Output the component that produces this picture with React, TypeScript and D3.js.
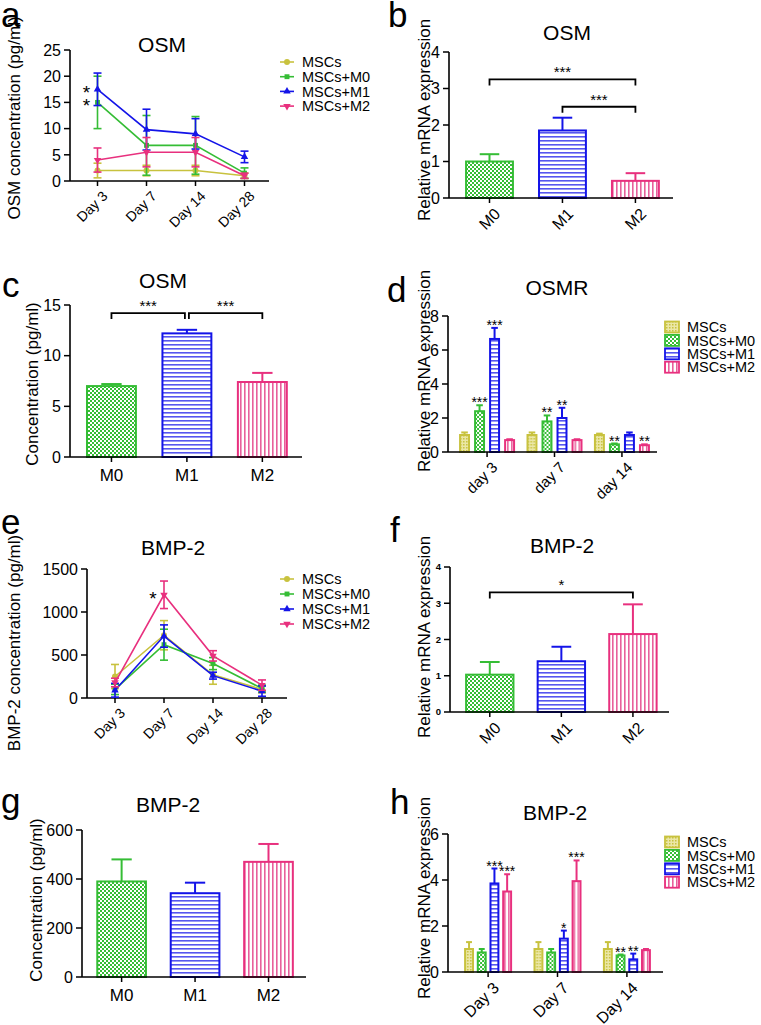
import * as d3 from 'd3';

const FONT = '"Liberation Sans", Arial, Helvetica, sans-serif';
const COLORS = ['#c8c23e', '#35bd35', '#1414e8', '#e8307e'];
const FILLS = ['url(#pMSC)', 'url(#pM0)', 'url(#pM1)', 'url(#pM2)'];

const seriesNames = ['MSCs', 'MSCs+M0', 'MSCs+M1', 'MSCs+M2'];
const macroCats = ['M0', 'M1', 'M2'];
const lineDays = ['Day 3', 'Day 7', 'Day 14', 'Day 28'];
const osmrDays = ['day 3', 'day 7', 'day 14'];
const bmpDays = ['Day 3', 'Day 7', 'Day 14'];

// a - OSM secretion (pg/ml), rows = MSCs, +M0, +M1, +M2
const osmTimeMean = [
  [2.0, 2.0, 2.0, 1.0],
  [15.0, 6.8, 6.8, 1.5],
  [17.5, 9.8, 9.0, 4.6],
  [4.0, 5.5, 5.5, 1.0],
];
const osmTimeSd = [
  [1.4, 1.0, 1.0, 0.5],
  [5.0, 5.7, 5.5, 1.0],
  [3.1, 3.9, 2.9, 1.1],
  [2.3, 2.8, 2.8, 0.5],
];
// b - OSM mRNA
const osmMrnaMean = [1.0, 1.85, 0.47];
const osmMrnaSd = [0.2, 0.35, 0.21];
// c - OSM concentration
const osmConcMean = [7.0, 12.2, 7.4];
const osmConcSd = [0.2, 0.35, 0.9];
// d - OSMR mRNA, rows = series, cols = days
const osmrMean = [
  [1.0, 1.0, 1.0],
  [2.4, 1.8, 0.45],
  [6.65, 2.0, 1.0],
  [0.7, 0.7, 0.4],
];
const osmrSd = [
  [0.15, 0.15, 0.08],
  [0.35, 0.35, 0.05],
  [0.65, 0.6, 0.15],
  [0.05, 0.05, 0.05],
];
const osmrStars = [
  ['', '', ''],
  ['***', '**', '**'],
  ['***', '**', ''],
  ['', '', '**'],
];
// e - BMP-2 secretion
const bmpTimeMean = [
  [250, 730, 270, 100],
  [100, 620, 400, 110],
  [90, 720, 260, 80],
  [180, 1200, 490, 150],
];
const bmpTimeSd = [
  [140, 170, 110, 40],
  [60, 180, 70, 40],
  [80, 130, 40, 60],
  [50, 160, 60, 60],
];
// f - BMP-2 mRNA
const bmpMrnaMean = [1.03, 1.4, 2.15];
const bmpMrnaSd = [0.35, 0.4, 0.82];
// g - BMP-2 concentration
const bmpConcMean = [390, 342, 470];
const bmpConcSd = [90, 43, 73];
// h - BMP-2 mRNA by day
const bmpDayMean = [
  [1.0, 1.0, 1.0],
  [0.85, 0.85, 0.72],
  [3.85, 1.45, 0.55],
  [3.5, 3.95, 0.95],
];
const bmpDaySd = [
  [0.3, 0.3, 0.3],
  [0.15, 0.15, 0.04],
  [0.65, 0.35, 0.25],
  [0.75, 0.9, 0.05],
];
const bmpDayStars = [
  ['', '', ''],
  ['', '', '**'],
  ['***', '*', '**'],
  ['***', '***', ''],
];

type Lay = { xl: number; xr: number; yt: number; yb: number; max: number; step: number };

const ink = '#000';

function YAxis({ lay, fs = 16, bold = false }: { lay: Lay; fs?: number; bold?: boolean }) {
  const y = d3.scaleLinear().domain([0, lay.max]).range([lay.yb, lay.yt]);
  const ticks = d3.range(0, lay.max + lay.step / 2, lay.step);
  return (
    <g>
      <line x1={lay.xl} x2={lay.xl} y1={lay.yt} y2={lay.yb} stroke={ink} strokeWidth={1.6} />
      <line x1={lay.xl} x2={lay.xr} y1={lay.yb} y2={lay.yb} stroke={ink} strokeWidth={1.6} />
      {ticks.map((t) => (
        <g key={t}>
          <line x1={lay.xl - 6} x2={lay.xl} y1={y(t)} y2={y(t)} stroke={ink} strokeWidth={1.5} />
          <text x={lay.xl - 9} y={y(t)} dy="0.36em" textAnchor="end" fontSize={fs}
            fontWeight={bold ? 'bold' : 'normal'}>{t}</text>
        </g>
      ))}
    </g>
  );
}

function Frame({ letter, title, ylab }: { letter: [number, number, string]; title: [number, number, string]; ylab: [number, number, string] }) {
  return (
    <g>
      <text x={letter[0]} y={letter[1]} fontSize={35}>{letter[2]}</text>
      <text x={title[0]} y={title[1]} fontSize={21} textAnchor="middle">{title[2]}</text>
      <text transform={`translate(${ylab[0]},${ylab[1]}) rotate(-90)`} fontSize={17} textAnchor="middle">{ylab[2]}</text>
    </g>
  );
}

function RotLabels({ xs, labels, yb, fs }: { xs: number[]; labels: string[]; yb: number; fs: number }) {
  return (
    <g>
      {labels.map((l, i) => (
        <g key={l}>
          <line x1={xs[i]} x2={xs[i]} y1={yb} y2={yb + 5} stroke={ink} strokeWidth={1.5} />
          <text transform={`translate(${xs[i] + 4},${yb + 9}) rotate(-45)`} textAnchor="end" dy="0.7em" fontSize={fs}>{l}</text>
        </g>
      ))}
    </g>
  );
}

const symbolFor = (s: number) => {
  const types = [d3.symbolCircle, d3.symbolSquare, d3.symbolTriangle, d3.symbolTriangle];
  return d3.symbol().type(types[s]).size(s === 0 ? 28 : 24)() as string;
};

function LinePanel({ lay, cr, cats, means, sds, legend, stars, fs }: {
  lay: Lay; cr: [number, number]; cats: string[]; means: number[][]; sds: number[][];
  legend: [number, number, number]; stars: { i: number; v: number }[]; fs: number;
}) {
  const x = d3.scalePoint<string>().domain(cats).range(cr).padding(0.5);
  const y = d3.scaleLinear().domain([0, lay.max]).range([lay.yb, lay.yt]);
  const line = d3.line<number>().x((_, i) => x(cats[i]) as number).y((v) => y(v));
  return (
    <g>
      <YAxis lay={lay} />
      <RotLabels xs={cats.map((c) => x(c) as number)} labels={cats} yb={lay.yb} fs={fs} />
      {means.map((ser, s) => (
        <g key={s} stroke={COLORS[s]} fill={COLORS[s]}>
          <path d={line(ser) as string} fill="none" strokeWidth={1.6} />
          {ser.map((v, i) => {
            const cx = x(cats[i]) as number;
            const lo = y(Math.max(0, v - sds[s][i]));
            const hi = y(v + sds[s][i]);
            return (
              <g key={i} strokeWidth={1.6}>
                <line x1={cx} x2={cx} y1={lo} y2={hi} />
                <line x1={cx - 4} x2={cx + 4} y1={lo} y2={lo} />
                <line x1={cx - 4} x2={cx + 4} y1={hi} y2={hi} />
                <path d={symbolFor(s)} stroke="none"
                  transform={`translate(${cx},${y(v)})${s === 3 ? ' rotate(180)' : ''}`} />
              </g>
            );
          })}
        </g>
      ))}
      {stars.map((st, k) => (
        <text key={k} x={(x(cats[st.i]) as number) - 11} y={y(st.v) + 10} fontSize={19} textAnchor="middle">*</text>
      ))}
      {seriesNames.map((n, s) => {
        const ly = legend[1] + s * legend[2];
        return (
          <g key={n}>
            <line x1={legend[0] - 7} x2={legend[0] + 7} y1={ly} y2={ly} stroke={COLORS[s]} strokeWidth={1.6} />
            <path d={symbolFor(s)} fill={COLORS[s]}
              transform={`translate(${legend[0]},${ly})${s === 3 ? ' rotate(180)' : ''}`} />
            <text x={legend[0] + 15} y={ly} dy="0.36em" fontSize={14.5}>{n}</text>
          </g>
        );
      })}
    </g>
  );
}

function bracketPath(x1: number, x2: number, yy: number) {
  return `M${x1},${yy + 6}V${yy}H${x2}V${yy + 6}`;
}

function SimpleBars({ lay, band, means, sds, brackets, rotated, bold }: {
  lay: Lay; band: [number, number, number]; means: number[]; sds: number[];
  brackets: { a: number; b: number; v: number; t: string; da?: number; db?: number }[];
  rotated: boolean; bold?: boolean;
}) {
  const x = d3.scaleBand<string>().domain(macroCats).range([lay.xl, lay.xr])
    .paddingInner(band[0]).paddingOuter(band[1]).align(band[2]);
  const y = d3.scaleLinear().domain([0, lay.max]).range([lay.yb, lay.yt]);
  const bw = x.bandwidth();
  const mid = (c: string) => (x(c) as number) + bw / 2;
  return (
    <g>
      {means.map((v, i) => {
        const c = macroCats[i];
        const col = COLORS[i + 1];
        const x0 = x(c) as number;
        return (
          <g key={c}>
            <line x1={mid(c)} x2={mid(c)} y1={y(v)} y2={y(v + sds[i])} stroke={col} strokeWidth={2} />
            <line x1={mid(c) - bw * 0.2} x2={mid(c) + bw * 0.2} y1={y(v + sds[i])} y2={y(v + sds[i])} stroke={col} strokeWidth={2} />
            <rect x={x0 + 1} y={y(v)} width={bw - 2} height={lay.yb - y(v)} fill={FILLS[i + 1]} stroke={col} strokeWidth={2} />
          </g>
        );
      })}
      <YAxis lay={lay} fs={bold ? 9.5 : 16} bold={bold} />
      {rotated ? (
        <RotLabels xs={macroCats.map(mid)} labels={macroCats} yb={lay.yb} fs={16} />
      ) : (
        macroCats.map((c) => (
          <g key={c}>
            <line x1={mid(c)} x2={mid(c)} y1={lay.yb} y2={lay.yb + 5} stroke={ink} strokeWidth={1.5} />
            <text x={mid(c)} y={lay.yb + 24} textAnchor="middle" fontSize={17}>{c}</text>
          </g>
        ))
      )}
      {brackets.map((b, k) => {
        const x1 = mid(macroCats[b.a]) + (b.da ?? 0);
        const x2 = mid(macroCats[b.b]) + (b.db ?? 0);
        return (
          <g key={k}>
            <path d={bracketPath(x1, x2, y(b.v))} fill="none" stroke={ink} strokeWidth={1.8} />
            <text x={(x1 + x2) / 2} y={y(b.v) - 2} textAnchor="middle" fontSize={15}>{b.t}</text>
          </g>
        );
      })}
    </g>
  );
}

function GroupedBars({ lay, cr, inner, cats, means, sds, stars, legend, fs }: {
  lay: Lay; cr: [number, number]; inner: [number, number]; cats: string[];
  means: number[][]; sds: number[][]; stars: string[][]; legend: [number, number, number]; fs: number;
}) {
  const gx = d3.scalePoint<string>().domain(cats).range(cr).padding(0.52);
  const sx = d3.scaleBand<string>().domain(seriesNames).range([-inner[0], inner[0]]).paddingInner(inner[1]);
  const y = d3.scaleLinear().domain([0, lay.max]).range([lay.yb, lay.yt]);
  const bw = sx.bandwidth();
  return (
    <g>
      {cats.map((c, i) => (
        <g key={c} transform={`translate(${gx(c)},0)`}>
          {seriesNames.map((n, s) => {
            const v = means[s][i];
            const x0 = sx(n) as number;
            const cx = x0 + bw / 2;
            const top = y(v + sds[s][i]);
            return (
              <g key={n}>
                <line x1={cx} x2={cx} y1={y(v)} y2={top} stroke={COLORS[s]} strokeWidth={2} />
                <line x1={cx - bw * 0.3} x2={cx + bw * 0.3} y1={top} y2={top} stroke={COLORS[s]} strokeWidth={2} />
                <rect x={x0 + 1} y={y(v)} width={bw - 2} height={lay.yb - y(v)} fill={FILLS[s]} stroke={COLORS[s]} strokeWidth={2} />
                {stars[s][i] && (
                  <text x={cx} y={top + 2} textAnchor="middle" fontSize={14}>{stars[s][i]}</text>
                )}
              </g>
            );
          })}
        </g>
      ))}
      <YAxis lay={lay} />
      <RotLabels xs={cats.map((c) => gx(c) as number)} labels={cats} yb={lay.yb} fs={fs} />
      {seriesNames.map((n, s) => {
        const ly = legend[1] + s * legend[2];
        return (
          <g key={n}>
            <rect x={legend[0]} y={ly - 5.5} width={14} height={11} fill={FILLS[s]} stroke={COLORS[s]} strokeWidth={1.8} />
            <text x={legend[0] + 22} y={ly} dy="0.36em" fontSize={14.5}>{n}</text>
          </g>
        );
      })}
    </g>
  );
}

export default function App() {
  return (
    <svg width={761} height={1025} viewBox="0 0 761 1025"
      style={{ position: 'absolute', left: 0, top: 0, display: 'block', background: '#fff' }}
      fontFamily={FONT}>
      <defs>
        <pattern id="pMSC" width={3} height={3} patternUnits="userSpaceOnUse">
          <rect width={3} height={3} fill="#ebe7a6" />
          <rect width={1.5} height={1.5} fill={COLORS[0]} />
        </pattern>
        <pattern id="pM0" width={4} height={4} patternUnits="userSpaceOnUse">
          <rect width={4} height={4} fill={COLORS[1]} />
          <rect width={2} height={2} fill="#fff" />
          <rect x={2} y={2} width={2} height={2} fill="#fff" />
        </pattern>
        <pattern id="pM1" width={4} height={4} patternUnits="userSpaceOnUse">
          <rect width={4} height={4} fill="#fff" />
          <rect width={4} height={1.6} fill="#5656ef" />
        </pattern>
        <pattern id="pM2" width={4} height={4} patternUnits="userSpaceOnUse">
          <rect width={4} height={4} fill="#fff" />
          <rect width={1.6} height={4} fill="#e8609c" />
        </pattern>
      </defs>
      <rect width={761} height={1025} fill="#fff" />

      {/* a */}
      <Frame letter={[1, 27, 'a']} title={[162, 52, 'OSM']} ylab={[20, 118, 'OSM concentration (pg/ml)']} />
      <LinePanel lay={{ xl: 70, xr: 269, yt: 50, yb: 181, max: 25, step: 5 }} cr={[73, 269]} cats={lineDays}
        means={osmTimeMean} sds={osmTimeSd} legend={[287, 62, 14.7]} fs={14}
        stars={[{ i: 0, v: 17.5 }, { i: 0, v: 15 }]} />

      {/* b */}
      <Frame letter={[388, 27, 'b']} title={[567, 40, 'OSM']} ylab={[430, 120, 'Relative mRNA expression']} />
      <SimpleBars lay={{ xl: 449, xr: 673, yt: 52, yb: 198, max: 4, step: 1 }} band={[0.33, 0.2, 0.55]}
        means={osmMrnaMean} sds={osmMrnaSd} rotated
        brackets={[{ a: 0, b: 2, v: 3.25, t: '***' }, { a: 1, b: 2, v: 2.5, t: '***' }]} />

      {/* c */}
      <Frame letter={[2, 297, 'c']} title={[163, 288, 'OSM']} ylab={[38, 384, 'Concentration (pg/ml)']} />
      <SimpleBars lay={{ xl: 70, xr: 302, yt: 305, yb: 457, max: 15, step: 5 }} band={[0.325, 0.2, 0.53]}
        means={osmConcMean} sds={osmConcSd} rotated={false}
        brackets={[{ a: 0, b: 1, v: 14.2, t: '***', db: -2 }, { a: 1, b: 2, v: 14.2, t: '***', da: 2 }]} />

      {/* d */}
      <Frame letter={[387, 302, 'd']} title={[557, 295, 'OSMR']} ylab={[430, 371, 'Relative mRNA expression']} />
      <GroupedBars lay={{ xl: 448, xr: 657, yt: 316, yb: 452, max: 8, step: 2 }} cr={[452, 657]} inner={[28, 0.27]}
        cats={osmrDays} means={osmrMean} sds={osmrSd} stars={osmrStars} legend={[665, 327, 13.4]} fs={15} />

      {/* e */}
      <Frame letter={[1, 534, 'e']} title={[173, 555, 'BMP-2']} ylab={[20, 643, 'BMP-2 concentration (pg/ml)']} />
      <LinePanel lay={{ xl: 87, xr: 287, yt: 569, yb: 698, max: 1500, step: 500 }} cr={[90.5, 286.5]} cats={lineDays}
        means={bmpTimeMean} sds={bmpTimeSd} legend={[287, 579, 15]} fs={14}
        stars={[{ i: 1, v: 1200 }]} />

      {/* f */}
      <Frame letter={[390, 542, 'f']} title={[562, 553, 'BMP-2']} ylab={[430, 637, 'Relative mRNA expression']} />
      <SimpleBars lay={{ xl: 450, xr: 669, yt: 567, yb: 712, max: 4, step: 1 }} band={[0.31, 0.185, 0.57]}
        means={bmpMrnaMean} sds={bmpMrnaSd} rotated bold
        brackets={[{ a: 0, b: 2, v: 3.3, t: '*' }]} />

      {/* g */}
      <Frame letter={[1, 813, 'g']} title={[168, 812, 'BMP-2']} ylab={[42, 900, 'Concentration (pg/ml)']} />
      <SimpleBars lay={{ xl: 82, xr: 306, yt: 830, yb: 977, max: 600, step: 200 }} band={[0.31, 0.18, 0.54]}
        means={bmpConcMean} sds={bmpConcSd} rotated={false} brackets={[]} />

      {/* h */}
      <Frame letter={[390, 814, 'h']} title={[555, 820, 'BMP-2']} ylab={[430, 898, 'Relative mRNA expression']} />
      <GroupedBars lay={{ xl: 448, xr: 663, yt: 834, yb: 972, max: 6, step: 2 }} cr={[452, 663]} inner={[24, 0.22]}
        cats={bmpDays} means={bmpDayMean} sds={bmpDaySd} stars={bmpDayStars} legend={[665, 842, 13.4]} fs={16} />
    </svg>
  );
}
